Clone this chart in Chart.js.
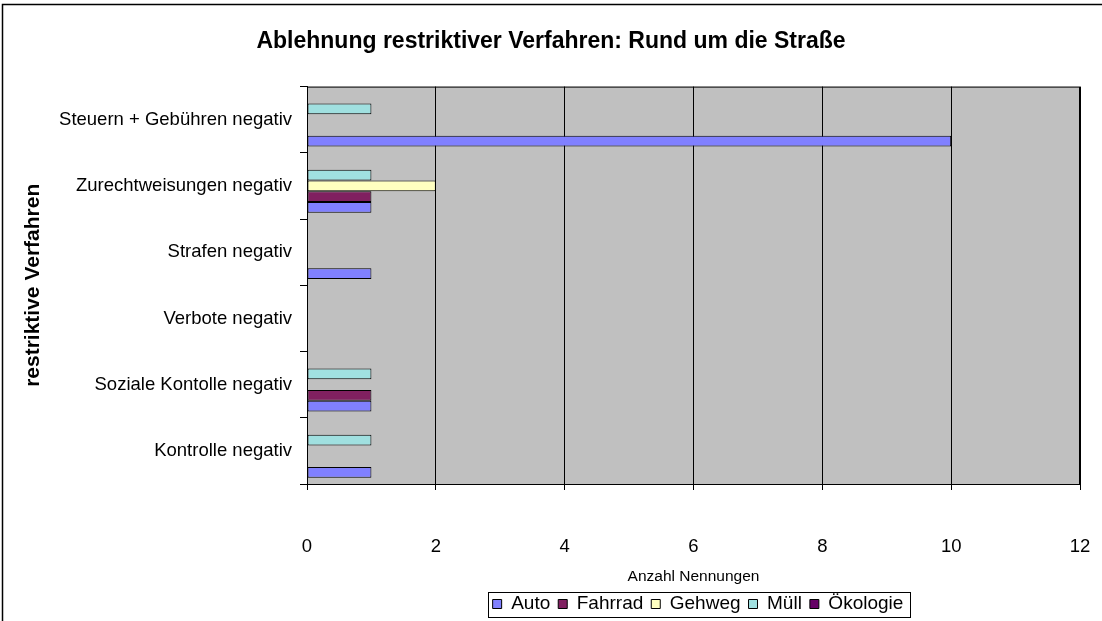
<!DOCTYPE html>
<html>
<head>
<meta charset="utf-8">
<script src="https://cdn.jsdelivr.net/npm/chart.js@4.4.1/dist/chart.umd.min.js"></script>
<style>
  html, body { margin: 0; padding: 0; background: #fff; }
  #wrap { width: 1102px; height: 621px; }
</style>
</head>
<body>
<div id="wrap"><canvas id="chart" width="1102" height="621"></canvas></div>
<script>
// categories, top to bottom as shown
const categories = [
    'Steuern + Gebühren negativ',
    'Zurechtweisungen negativ',
    'Strafen negativ',
    'Verbote negativ',
    'Soziale Kontolle negativ',
    'Kontrolle negativ'
];

// series values (per category, same order)
const auto      = [10, 1, 1, 0, 1, 1];
const fahrrad   = [0, 1, 0, 0, 1, 0];
const gehweg    = [0, 2, 0, 0, 0, 0];
const muell     = [1, 1, 0, 0, 1, 1];
const oekologie = [0, 0, 0, 0, 0, 0];

const xTicks = [0, 2, 4, 6, 8, 10, 12];

const FONT = "'Liberation Sans', Arial, sans-serif";
const LEGEND_SHIFT = 147; // legend is centred under the plot, not the canvas

// plot area background + outer frame + legend box
const excelLook = {
    id: 'excelLook',
    afterLayout(chart) {
        const lg = chart.legend;
        if (!lg) return;
        lg.left += LEGEND_SHIFT;
        lg.right += LEGEND_SHIFT;
        (lg.legendHitBoxes || []).forEach(h => { h.left += LEGEND_SHIFT; });
    },
    beforeDraw(chart) {
        const { ctx, chartArea: a } = chart;
        ctx.save();
        ctx.fillStyle = '#c0c0c0';
        ctx.fillRect(a.left, a.top, a.right - a.left, a.bottom - a.top);
        ctx.restore();
    },
    afterDraw(chart) {
        const { ctx, chartArea: a } = chart;
        ctx.save();
        ctx.strokeStyle = '#000';
        ctx.lineWidth = 1;
        ctx.strokeRect(a.left + 0.5, a.top + 0.5, a.right - a.left - 1, a.bottom - a.top);

        // outer frame (only top and left are visible in the picture)
        ctx.lineWidth = 1.5;
        ctx.beginPath();
        ctx.moveTo(2.5, 700);
        ctx.lineTo(2.5, 4.5);
        ctx.lineTo(1110, 4.5);
        ctx.stroke();

        // box round the legend
        const lg = chart.legend;
        if (lg && lg.legendHitBoxes && lg.legendHitBoxes.length) {
            const hb = lg.legendHitBoxes;
            const l = Math.min(...hb.map(h => h.left)) - 5;
            const r = Math.max(...hb.map(h => h.left + h.width)) + 6;
            const t = hb[0].top + hb[0].height / 2 - 12;
            ctx.lineWidth = 1;
            ctx.strokeRect(Math.round(l) + 0.5, Math.round(t) + 0.5, Math.round(r - l), 25);
        }
        ctx.restore();
    }
};

function series(label, data, color) {
    return {
        label: label,
        data: data,
        backgroundColor: color,
        borderColor: '#000',
        borderWidth: 1,
        borderSkipped: false,
        categoryPercentage: 0.81,
        barPercentage: 1.0
    };
}

function createChart() {
    const ctx = document.getElementById('chart');

    // datasets listed bottom-up inside each group, so Auto ends up lowest
    const datasets = [
        series('Ökologie', oekologie, '#660066'),
        series('Müll', muell, '#a0e0e0'),
        series('Gehweg', gehweg, '#ffffc0'),
        series('Fahrrad', fahrrad, '#802060'),
        series('Auto', auto, '#8080ff')
    ];

    new Chart(ctx, {
        type: 'bar',
        data: { labels: categories, datasets: datasets },
        plugins: [excelLook],
        options: {
            indexAxis: 'y',
            responsive: false,
            animation: false,
            layout: { padding: { left: 0, right: 0, top: 0, bottom: -2.5 } },
            scales: {
                x: {
                    type: 'linear',
                    min: 0,
                    max: 12,
                    afterBuildTicks: scale => { scale.ticks = xTicks.map(v => ({ value: v })); },
                    afterFit: scale => {
                        scale.height = 102.5;
                        scale.paddingLeft = 0;
                        scale.paddingRight = 22;
                    },
                    grid: { color: '#000', lineWidth: 1, tickLength: 6, drawTicks: true },
                    border: { display: true, color: '#000' },
                    ticks: { color: '#000', font: { family: FONT, size: 18.5 }, padding: 46 },
                    title: {
                        display: true,
                        text: 'Anzahl Nennungen',
                        color: '#000',
                        font: { family: FONT, size: 15.5 },
                        padding: { top: 0, bottom: 0 }
                    }
                },
                y: {
                    afterFit: scale => { scale.width = 307; },
                    grid: { color: '#000', drawOnChartArea: false, tickLength: 7, offset: true },
                    border: { display: true, color: '#000' },
                    ticks: { color: '#000', font: { family: FONT, size: 18.5 }, padding: 8 },
                    title: {
                        display: true,
                        text: 'restriktive Verfahren',
                        color: '#000',
                        font: { family: FONT, size: 21, weight: 'bold' },
                        padding: { top: 21, bottom: 0 }
                    }
                }
            },
            plugins: {
                title: {
                    display: true,
                    text: 'Ablehnung restriktiver Verfahren: Rund um die Straße',
                    color: '#000',
                    font: { family: FONT, size: 23, weight: 'bold' },
                    padding: { top: 28, bottom: 31 }
                },
                legend: {
                    position: 'bottom',
                    reverse: true,
                    labels: {
                        color: '#000',
                        font: { family: FONT, size: 19 },
                        boxWidth: 9,
                        boxHeight: 9,
                        padding: 8
                    }
                },
                tooltip: { enabled: false }
            }
        }
    });
}

createChart();
</script>
</body>
</html>
